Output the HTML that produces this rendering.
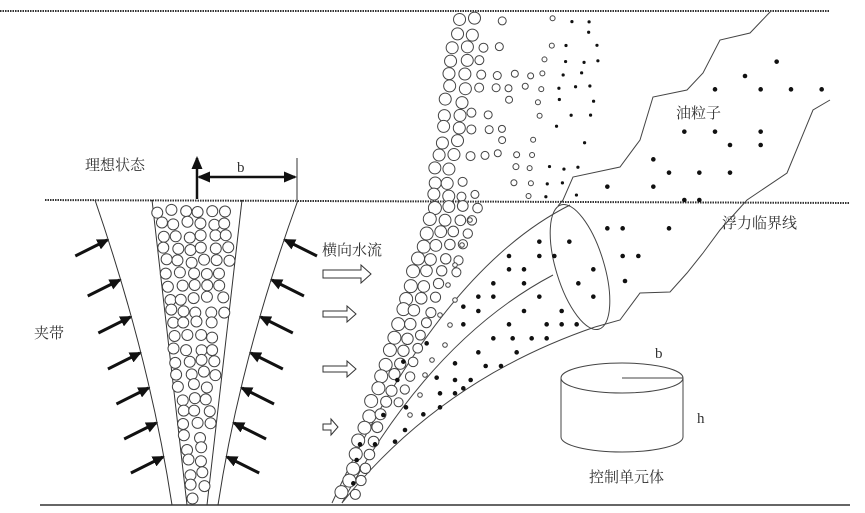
<!DOCTYPE html>
<html><head><meta charset="utf-8"><style>
html,body{margin:0;padding:0;background:#fff;}
svg{display:block;}
text{font-family:"Liberation Serif","Noto Serif CJK SC",serif;font-size:15px;fill:#333;}
</style></head><body>
<svg id="s" width="865" height="513" viewBox="0 0 865 513" xmlns="http://www.w3.org/2000/svg">
<defs>
<marker id="ah" markerWidth="12" markerHeight="11" refX="10" refY="5.5" orient="auto" markerUnits="userSpaceOnUse"><path d="M0,0 L12,5.5 L0,11 z" fill="#111"/></marker>
<marker id="ah2" markerWidth="13" markerHeight="11" refX="11" refY="5.5" orient="auto-start-reverse" markerUnits="userSpaceOnUse"><path d="M0,0 L13,5.5 L0,11 z" fill="#111"/></marker>
</defs>
<g stroke="#333" fill="none">
<line x1="0" y1="11" x2="830" y2="11" stroke-width="2" stroke-dasharray="1.5,1"/>
<line x1="45" y1="200" x2="850" y2="203" stroke-width="2" stroke-dasharray="1.5,1"/>
<line x1="40" y1="505" x2="850" y2="505" stroke-width="1.5"/>
<path d="M95,200 Q150,360 172,505" stroke-width="1"/>
<path d="M298,200 Q240,360 218,505" stroke-width="1"/>
<line x1="152" y1="200" x2="187" y2="505" stroke-width="1"/>
<line x1="242" y1="200" x2="207" y2="505" stroke-width="1"/>
<line x1="297" y1="158" x2="297" y2="200" stroke-width="1"/>
</g>
<line x1="197" y1="199" x2="197" y2="158" stroke="#111" stroke-width="2.5" marker-end="url(#ah2)"/>
<line x1="199" y1="177" x2="295" y2="177" stroke="#111" stroke-width="2.5" marker-end="url(#ah2)" marker-start="url(#ah2)"/>
<g id="arrows" stroke="#111" stroke-width="3"></g>
<g fill="#fff" stroke="#333" stroke-width="1">
<path d="M323,270 h38 v-5 l10,9 l-10,9 v-5 h-38 z"/>
<path d="M323,311 h24 v-5 l9,8 l-9,8 v-5 h-24 z"/>
<path d="M323,366 h24 v-5 l9,8 l-9,8 v-5 h-24 z"/>
<path d="M323,424 h8 v-5 l7,8 l-7,8 v-5 h-8 z"/>
</g>
<g stroke="#444" fill="none" stroke-width="1">
<path d="M771,11 L750,33 L720,40 L703,73 L687,90 L653,97 L640,140 L620,167 L573,177 L563,200 L558,206"/>
<path d="M830,100 L813,110 L787,173 L747,200 L720,230 L703,253 L687,273 L670,292 L640,293 L620,320 L595,327"/>
<ellipse cx="580" cy="267" rx="24" ry="65" transform="rotate(-17 580 267)"/>
<path d="M570,205 Q440,270 332,503"/>
<path d="M553,275 Q430,340 342,503"/>
<path d="M595,327 Q440,380 342,503"/>
<ellipse cx="622" cy="378" rx="61" ry="15"/>
<line x1="561" y1="378" x2="561" y2="437"/>
<line x1="683" y1="378" x2="683" y2="437"/>
<path d="M561,437 A61,15 0 0 0 683,437"/>
<line x1="622" y1="378" x2="683" y2="378"/>
</g>
<g id="dots"></g>
<text x="85" y="170">理想状态</text>
<text x="237" y="172">b</text>
<text x="34" y="338">夹带</text>
<text x="322" y="255">横向水流</text>
<text x="676" y="118">油粒子</text>
<text x="722" y="228">浮力临界线</text>
<text x="655" y="358">b</text>
<text x="697" y="423">h</text>
<text x="589" y="482">控制单元体</text>
</svg>
<script>
var NS="http://www.w3.org/2000/svg";
var g=document.getElementById("dots"),ag=document.getElementById("arrows");
function c(x,y,r,f){var e=document.createElementNS(NS,"circle");e.setAttribute("cx",x);e.setAttribute("cy",y);e.setAttribute("r",r);
if(f){e.setAttribute("fill","#111");}else{e.setAttribute("fill","#fff");e.setAttribute("stroke","#444");e.setAttribute("stroke-width","1");}g.appendChild(e);}
var seed=7;function rnd(){seed=(seed*16807)%2147483647;return seed/2147483647;}
function bez(p0,p1,p2,t){return (1-t)*(1-t)*p0+2*(1-t)*t*p1+t*t*p2;}
function xAt(x0,x1,x2,yt){var lo=0,hi=1;for(var i=0;i<30;i++){var m=(lo+hi)/2;if(bez(200,360,505,m)<yt)lo=m;else hi=m;}return bez(x0,x1,x2,lo);}
var ys=[240,280,317,353,388,423,457];
ys.forEach(function(y){
 var lx=xAt(95,150,172,y);
 var l=document.createElementNS(NS,"line");l.setAttribute("x1",lx-33);l.setAttribute("y1",y+16);l.setAttribute("x2",lx-1);l.setAttribute("y2",y);l.setAttribute("marker-end","url(#ah)");ag.appendChild(l);
 var rx=xAt(298,240,218,y);
 var m=document.createElementNS(NS,"line");m.setAttribute("x1",rx+33);m.setAttribute("y1",y+16);m.setAttribute("x2",rx+1);m.setAttribute("y2",y);m.setAttribute("marker-end","url(#ah)");ag.appendChild(m);
});
for(var y=211;y<500;y+=12.5){var t=(y-200)/305;var L=152+35*t+6,R=242-35*t-6;
 for(var x=L;x<=R+1;x+=13){c(x+(rnd()-0.5)*4,y+(rnd()-0.5)*4,5.5,false);}}
var sizes=[6,6,4.5,4,3.5,3,2.5,1.6,1.6,1.6];var dx=[0,15,30,46,62,78,95,112,130,145];
for(var y=20;y<200;y+=13.5){var sh=458-(y-20)*0.15;
 for(var k=0;k<10;k++){ if(k>1&&rnd()<0.35)continue; var f=k>=7;
  c(sh+dx[k]+(rnd()-0.5)*6,y+(rnd()-0.5)*4,f?1.6:sizes[k],f);} }
for(var y=207;y<500;y+=13){var t=(y-200)/300;var lx=431-96*t+6;var w=50-32*t;
 for(var x=lx;x<lx+w;x+=14){var rr=6.5-2*(x-lx)/w;c(x+(rnd()-0.5)*4,y+(rnd()-0.5)*4,rr,false);} }
var fd=[[1370,185],[1275,228],[1185,268],[1322,268],[1413,268],[1505,268],[1093,395],[1185,395],[1322,395],[1230,435],[1322,435],[1000,478],[1047,518],[1138,518],[1230,518],[862,560],[1000,560],[1093,600],[1138,600],[862,685],[908,685],[1047,685],[908,768],[955,768],[915,843],[748,725],[820,808],[775,850],[820,890],[658,725],[567,768],[658,768],[703,768],[567,808],[612,808],[520,850],[612,850],[475,890],[520,890],[658,890],[430,920],[475,933],[612,933],[725,933],[430,973],[567,973],[680,973],[725,973],[770,973],[520,1015],[578,1015],[635,1015],[680,1015],[475,1057],[590,1057],[405,1090],[497,1098],[543,1098],[350,1133],[405,1140],[452,1140],[430,1165],[360,1180],[405,1180],[360,1222],[310,1243],[258,1222],[255,1290],[225,1325],[120,1333],[165,1333],[190,1245],[232,1140],[250,1085],[320,1030],[100,1450],[110,1380]];
fd.forEach(function(p){c(320+p[0]/3,p[1]/3,2.3,true);});
[[470,220],[462,245],[455,265],[448,285],[455,300],[440,315],[450,325],[445,345],[432,360],[425,375],[420,395],[410,415]].forEach(function(p){c(p[0],p[1],2.3,false);});
</script>
</body></html>
